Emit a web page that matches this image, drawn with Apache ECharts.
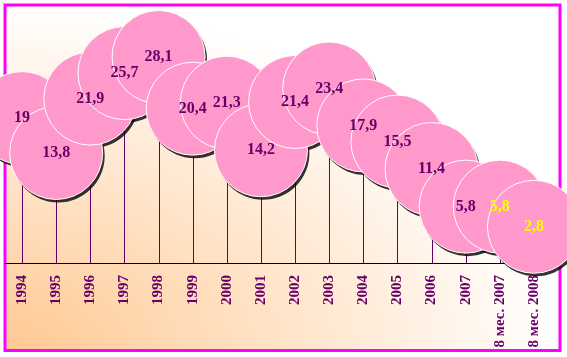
<!DOCTYPE html>
<html>
<head>
<meta charset="utf-8">
<script src="https://cdn.jsdelivr.net/npm/echarts@6/dist/echarts.min.js"></script>
<style>html,body{margin:0;padding:0;background:#fff;}#c{width:567px;height:357px;}</style>
</head>
<body>
<div id="c"></div>
<script>
const categories = ['1994','1995','1996','1997','1998','1999','2000','2001','2002','2003','2004','2005','2006','2007','8 мес. 2007','8 мес. 2008'];
const values = [19, 13.8, 21.9, 25.7, 28.1, 20.4, 21.3, 14.2, 21.4, 23.4, 17.9, 15.5, 11.4, 5.8, 5.8, 2.8];

const Y_MIN = -2.6, Y_MAX = 36;
const PURPLE = '#660066';
const chart = echarts.init(document.getElementById('c'), null, {renderer: 'canvas'});

const pts = values.map((v, i) => [i, v]);
const fmt = v => String(v).replace('.', ',');

chart.setOption({
  animation: false,
  backgroundColor: '#ffffff',
  graphic: [
    {
      type: 'rect', x: 5, y: 5, scaleX: 555 / 345, z: 0, silent: true,
      shape: {x: 0, y: 0, width: 345, height: 345},
      style: {fill: new echarts.graphic.RadialGradient(0, 1, 1, [
        {offset: 0, color: '#FFC993'},
        {offset: 1, color: '#FFFFFF'}
      ])}
    },
    {
      type: 'rect', z: 1, silent: true,
      shape: {x: 5, y: 5, width: 555, height: 345.5},
      style: {fill: 'none', stroke: '#FF00FF', lineWidth: 3}
    }
  ],
  grid: {left: 5, width: 546, top: 4, bottom: 94, containLabel: false},
  xAxis: {
    type: 'category', data: categories, boundaryGap: true,
    axisLine: {show: true, onZero: false, lineStyle: {color: '#000', width: 1}},
    axisTick: {show: false},
    axisLabel: {rotate: 90, margin: 12, interval: 0, color: PURPLE, fontFamily: 'Liberation Serif', fontWeight: 'bold', fontSize: 15},
    splitLine: {show: false}, z: 3
  },
  yAxis: {type: 'value', min: Y_MIN, max: Y_MAX, show: false, splitLine: {show: false}},
  series: [
    {
      type: 'custom', z: 2, clip: false,
      data: pts,
      renderItem: function (params, api) {
        const p1 = api.coord([api.value(0), api.value(1)]);
        const p0 = api.coord([api.value(0), Y_MIN]);
        const x = Math.round(p0[0]) + 0.5;
        return {type: 'line', shape: {x1: x, y1: p0[1], x2: x, y2: p1[1]}, style: {stroke: PURPLE, lineWidth: 1}};
      }
    },
    {
      type: 'scatter', z: 3, clip: false, silent: true,
      data: pts, symbol: 'circle', symbolSize: 93, symbolOffset: [2, 3],
      itemStyle: {color: '#000000'}
    },
    {
      type: 'scatter', z: 4, clip: false,
      data: pts.map((p, i) => ({
        value: p,
        label: {color: i >= 14 ? '#FFFF00' : PURPLE}
      })),
      symbol: 'circle', symbolSize: 93,
      itemStyle: {color: '#FF99CC', borderColor: '#FFFFFF', borderWidth: 1, opacity: 1},
      label: {
        show: true, position: 'inside',
        fontFamily: 'Liberation Serif', fontWeight: 'bold', fontSize: 16,
        formatter: p => fmt(p.value[1])
      }
    }
  ]
});
</script>
</body>
</html>
